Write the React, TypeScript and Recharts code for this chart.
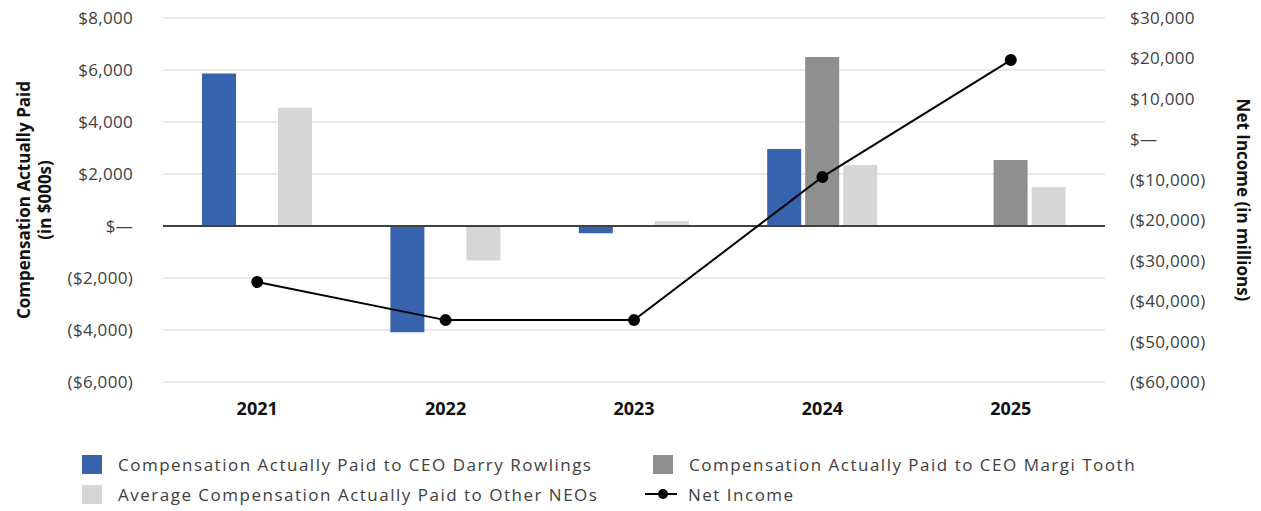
import React from "react";
import {
  Bar,
  CartesianGrid,
  ComposedChart,
  Label,
  Line,
  ReferenceLine,
  XAxis,
  YAxis,
} from "recharts";

// values (left axis in $000s, right axis in $ millions)
const years = ["2021", "2022", "2023", "2024", "2025"];
const ceoDarry = [5870, -4090, -280, 2960, null];
const ceoMargi = [null, null, null, 6500, 2540];
const otherNeos = [4550, -1330, 190, 2350, 1500];
const netIncome = [-35300, -44700, -44700, -9300, 19600];

const leftTicks = [-6000, -4000, -2000, 0, 2000, 4000, 6000, 8000];
const rightTicks = [-60000, -50000, -40000, -30000, -20000, -10000, 0, 10000, 20000, 30000];

const BLUE = "#3763ae";
const DARK = "#8f8f8f";
const LIGHT = "#d6d6d6";
const TEXT = "#404040";
const FONT = "'Open Sans', sans-serif";

const data = years.map((y, i) => ({
  year: y,
  darry: ceoDarry[i],
  margi: ceoMargi[i],
  other: otherNeos[i],
  net: netIncome[i],
}));

const money = (v: number) => {
  if (v === 0) return "$\u2014";
  const s = "$" + Math.abs(v).toLocaleString("en-US");
  return v < 0 ? `(${s})` : s;
};

const TICK = { fontSize: 17, fill: TEXT, fontFamily: FONT, letterSpacing: 0.3 };

function LeftTitle({ viewBox }: any) {
  const cy = viewBox.y + viewBox.height / 2;
  return (
    <text
      transform={`translate(34, ${cy}) rotate(-90)`}
      textAnchor="middle"
      style={{ fontSize: 17, fontWeight: 700, fontFamily: FONT, fill: "#111" }}
    >
      <tspan x={0} dy={-4}>Compensation Actually Paid</tspan>
      <tspan x={0} dy={21}>(in $000s)</tspan>
    </text>
  );
}

function RightTitle({ viewBox }: any) {
  const cy = viewBox.y + viewBox.height / 2;
  return (
    <text
      transform={`translate(1237, ${cy}) rotate(90)`}
      textAnchor="middle"
      style={{ fontSize: 17, fontWeight: 700, fontFamily: FONT, fill: "#111" }}
    >
      Net Income (in millions)
    </text>
  );
}

const legendRows = [
  [
    { name: "Compensation Actually Paid to CEO Darry Rowlings", color: BLUE, type: "square", x: 82 },
    { name: "Compensation Actually Paid to CEO Margi Tooth", color: DARK, type: "square", x: 653 },
  ],
  [
    { name: "Average Compensation Actually Paid to Other NEOs", color: LIGHT, type: "square", x: 82 },
    { name: "Net Income", color: "#000", type: "line", x: 645 },
  ],
];

export default function App() {
  document.body.style.margin = "0";
  return (
    <div style={{ position: "relative", width: 1261, height: 511, background: "#fff", fontFamily: FONT }}>
      <ComposedChart
        width={1261}
        height={420}
        data={data}
        margin={{ top: 18, right: 0, left: 0, bottom: 0 }}
        barSize={34}
        barGap={4}
      >
        <CartesianGrid vertical={false} stroke="#e2e2e2" strokeWidth={1.5} yAxisId="left" />
        <XAxis
          dataKey="year"
          height={38}
          axisLine={false}
          tickLine={false}
          tickSize={0}
          tickMargin={20}
          tick={{ fontSize: 18, fontWeight: 700, fill: "#111", fontFamily: FONT }}
        />
        <YAxis
          yAxisId="left"
          width={163}
          domain={[-6000, 8000]}
          ticks={leftTicks}
          tickFormatter={money}
          axisLine={false}
          tickLine={false}
          tickSize={0}
          tickMargin={30}
          tick={TICK}
          interval={0}
        >
          <Label content={<LeftTitle />} />
        </YAxis>
        <YAxis
          yAxisId="right"
          orientation="right"
          width={156}
          domain={[-60000, 30000]}
          ticks={rightTicks}
          tickFormatter={money}
          axisLine={false}
          tickLine={false}
          tickSize={0}
          tickMargin={25}
          tick={{ ...TICK, textAnchor: "start" }}
          interval={0}
        >
          <Label content={<RightTitle />} />
        </YAxis>
        <Bar yAxisId="left" dataKey="darry" fill={BLUE} isAnimationActive={false} />
        <Bar yAxisId="left" dataKey="margi" fill={DARK} isAnimationActive={false} />
        <Bar yAxisId="left" dataKey="other" fill={LIGHT} isAnimationActive={false} />
        <ReferenceLine yAxisId="left" y={0} stroke="#404040" strokeWidth={2} />
        <Line
          yAxisId="right"
          dataKey="net"
          stroke="#000"
          strokeWidth={2}
          dot={{ r: 5, fill: "#000", stroke: "#000" }}
          isAnimationActive={false}
        />
      </ComposedChart>
      {legendRows.map((row, ri) =>
        row.map((it) => (
          <div
            key={it.name}
            style={{
              position: "absolute",
              left: it.x,
              top: 454 + ri * 30,
              height: 20,
              display: "flex",
              alignItems: "center",
              fontSize: 17,
              letterSpacing: 1.5,
              color: TEXT,
              whiteSpace: "nowrap",
            }}
          >
            {it.type === "square" ? (
              <span style={{ display: "inline-block", width: 20, height: 19, background: it.color, marginRight: 16 }} />
            ) : (
              <svg width={33} height={20} style={{ marginRight: 10 }}>
                <line x1={0} y1={10} x2={32} y2={10} stroke="#000" strokeWidth={2} />
                <circle cx={18} cy={10} r={5} fill="#000" />
              </svg>
            )}
            <span>{it.name}</span>
          </div>
        ))
      )}
    </div>
  );
}
